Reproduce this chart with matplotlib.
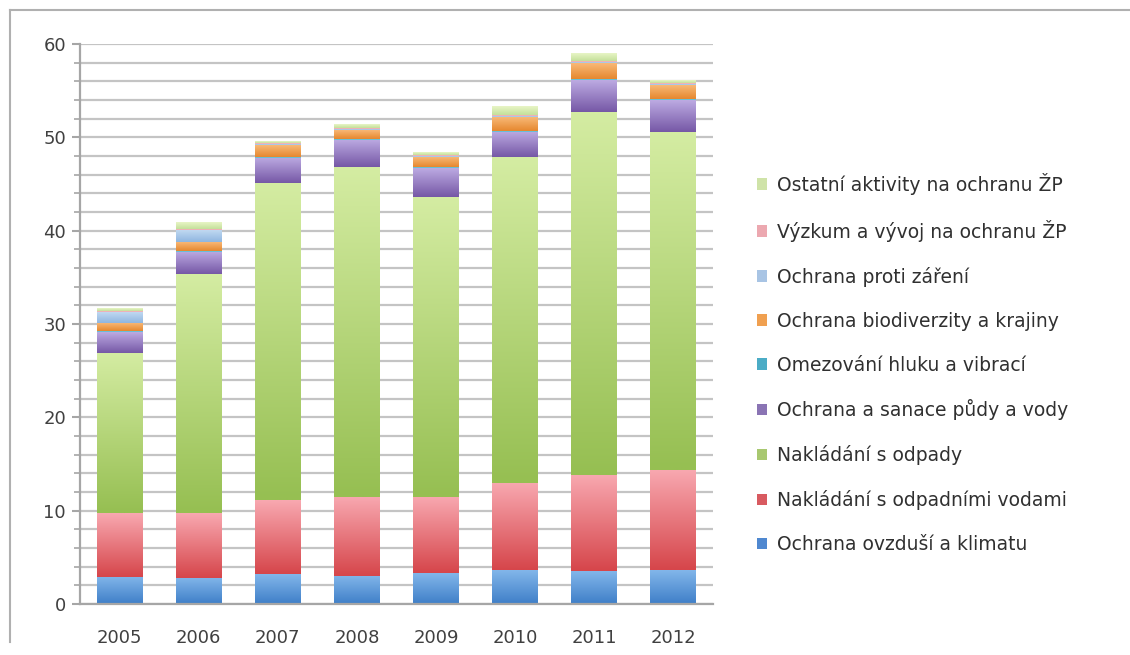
import matplotlib
matplotlib.use('Agg')
import matplotlib.pyplot as plt
from matplotlib.colors import to_rgb
from matplotlib.patches import Patch
from matplotlib.lines import Line2D
import numpy as np

# Environmental protection expenditure by category, 2005-2012
years = ['2005', '2006', '2007', '2008', '2009', '2010', '2011', '2012']

categories = [
    'Ochrana ovzduší a klimatu',
    'Nakládání s odpadními vodami',
    'Nakládání s odpady',
    'Ochrana a sanace půdy a vody',
    'Omezování hluku a vibrací',
    'Ochrana biodiverzity a krajiny',
    'Ochrana proti záření',
    'Výzkum a vývoj na ochranu ŽP',
    'Ostatní aktivity na ochranu ŽP',
]

ovzdusi = [2.9, 2.8, 3.2, 3.0, 3.3, 3.6, 3.5, 3.6]
odpadni_vody = [6.85, 6.95, 7.9, 8.5, 8.2, 9.4, 10.3, 10.8]
odpady = [17.15, 25.55, 34.0, 35.3, 32.1, 34.9, 38.9, 36.2]
puda_voda = [2.2, 2.4, 2.7, 2.9, 3.1, 2.7, 3.4, 3.4]
hluk = [0.1, 0.1, 0.1, 0.1, 0.1, 0.1, 0.1, 0.1]
biodiverzita = [0.9, 1.0, 1.3, 1.0, 1.1, 1.5, 1.8, 1.5]
zareni = [1.2, 1.3, 0.1, 0.1, 0.1, 0.1, 0.1, 0.1]
vyzkum = [0.1, 0.1, 0.1, 0.1, 0.1, 0.1, 0.1, 0.1]
ostatni = [0.3, 0.7, 0.2, 0.4, 0.3, 0.9, 0.8, 0.3]

series = [ovzdusi, odpadni_vody, odpady, puda_voda, hluk,
          biodiverzita, zareni, vyzkum, ostatni]

# (top, bottom) gradient colours for each series
gradients = [
    ('#82b6ea', '#3f7fc8'),
    ('#f8a8b0', '#d6464b'),
    ('#d4eca2', '#96bf52'),
    ('#bcaae2', '#7658a6'),
    ('#94d8e8', '#3fa6c6'),
    ('#f9bc7c', '#e6882f'),
    ('#c4dbf2', '#8fb6e0'),
    ('#f8c8cc', '#e49aa2'),
    ('#e8f5c6', '#c4e09a'),
]
legend_colors = ['#4f88d0', '#d85a60', '#a8c870', '#8a74b4', '#4bacc6',
                 '#f0a050', '#a8c4e4', '#eca8b0', '#cfe3a8']

fig = plt.figure(figsize=(11.3, 6.55), dpi=100)
ax = fig.add_axes([0.0708, 0.0779, 0.560, 0.855])

x = np.arange(len(years))
width = 0.58
bottom = np.zeros(len(years))
for vals, (c_top, c_bot) in zip(series, gradients):
    bars = ax.bar(x, vals, width, bottom=bottom, color='none', edgecolor='none', zorder=2)
    top = np.array(to_rgb(c_top))
    bot = np.array(to_rgb(c_bot))
    t = np.linspace(0, 1, 64)[:, None]
    grad = (bot * (1 - t) + top * t)[:, None, :]
    for p in bars:
        if p.get_height() <= 0:
            continue
        ax.imshow(grad, extent=(p.get_x(), p.get_x() + p.get_width(),
                                p.get_y(), p.get_y() + p.get_height()),
                  origin='lower', aspect='auto', interpolation='bilinear', zorder=2)
    bottom += np.array(vals)

ax.set_xlim(-0.5, len(years) - 0.5)
ax.set_ylim(0, 60)

ax.set_xticks(x)
ax.set_xticklabels(years)
ax.set_yticks(np.arange(0, 61, 10))
ax.set_yticks(np.arange(0, 61, 2), minor=True)
ax.tick_params(axis='x', length=0, labelsize=13, colors='#404040', pad=18)
ax.tick_params(axis='y', which='major', length=6, width=1.5, color='#a6a6a6',
               labelsize=13, labelcolor='#404040', pad=4)
ax.tick_params(axis='y', which='minor', length=4, width=1.2, color='#a6a6a6')

ax.grid(axis='y', which='both', color='#c4c4c4', linewidth=1.6, zorder=0)
ax.set_axisbelow(True)
for side in ['top', 'right']:
    ax.spines[side].set_visible(False)
for side in ['left', 'bottom']:
    ax.spines[side].set_color('#a6a6a6')
    ax.spines[side].set_linewidth(1.6)

handles = [Patch(facecolor=c, edgecolor='none') for c in legend_colors]
leg = fig.legend(handles[::-1], categories[::-1], loc='upper left',
                 bbox_to_anchor=(0.655, 0.762), frameon=False, fontsize=13.5,
                 handlelength=0.55, handleheight=0.55, handletextpad=0.5,
                 labelspacing=1.33)
for txt in leg.get_texts():
    txt.set_color('#303030')

# chart area border
fig.add_artist(Line2D([0.009, 1.0], [0.985, 0.985], color='#b0b0b0', linewidth=1.5))
fig.add_artist(Line2D([0.009, 0.009], [0.02, 0.985], color='#b0b0b0', linewidth=1.5))

fig.savefig('out.png', dpi=100)
